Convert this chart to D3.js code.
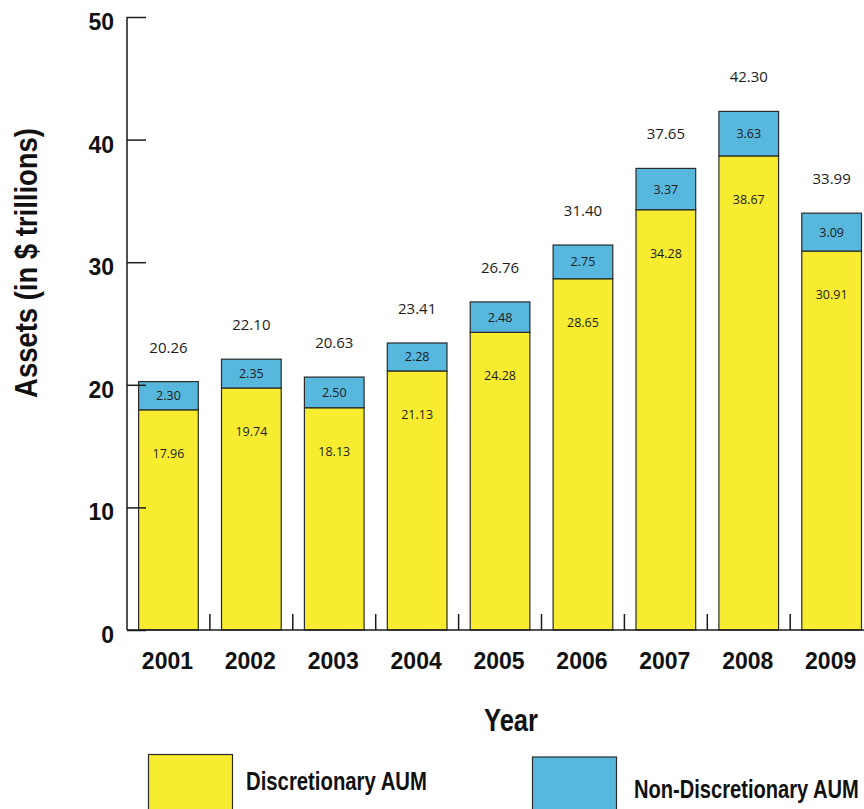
<!DOCTYPE html>
<html>
<head>
<meta charset="utf-8">
<script src="https://cdn.jsdelivr.net/npm/d3@7"></script>
<style>
  html, body { margin: 0; padding: 0; background: #fff; }
  svg { display: block; }
  .cond { font-family: "Liberation Sans", Arial, sans-serif; font-weight: bold; }
</style>
</head>
<body>
<div id="chart"></div>
<script>
// Assets under management by year, in $ trillions
const years = ["2001", "2002", "2003", "2004", "2005", "2006", "2007", "2008", "2009"];
const discretionary = [17.96, 19.74, 18.13, 21.13, 24.28, 28.65, 34.28, 38.67, 30.91];
const nonDiscretionary = [2.30, 2.35, 2.50, 2.28, 2.48, 2.75, 3.37, 3.63, 3.09];
const totals = [20.26, 22.10, 20.63, 23.41, 26.76, 31.40, 37.65, 42.30, 33.99];
const yTicks = [0, 10, 20, 30, 40, 50];
const seriesNames = ["Discretionary AUM", "Non-Discretionary AUM"];
const seriesColors = ["#F7EC2F", "#57B7DD"];

const W = 864, H = 809;
const plotLeft = 127, plotBottom = 630, plotTop = 17;

const svg = d3.select("#chart").append("svg")
  .attr("width", W).attr("height", H);

const x = d3.scaleBand()
  .domain(years)
  .range([plotLeft, plotLeft + 9 * 82.9])
  .paddingInner(0.28)
  .paddingOuter(0.14);

const y = d3.scaleLinear().domain([0, 50]).range([plotBottom, plotTop]);

const rows = years.map((yr, i) => ({
  year: yr,
  disc: discretionary[i],
  non: nonDiscretionary[i],
  total: totals[i]
}));

const layers = d3.stack().keys(["disc", "non"])(rows);

// stacked bars
const g = svg.append("g");
layers.forEach((layer, li) => {
  g.selectAll(null)
    .data(layer)
    .enter().append("rect")
    .attr("x", d => x(d.data.year))
    .attr("width", x.bandwidth())
    .attr("y", d => y(d[1]))
    .attr("height", d => y(d[0]) - y(d[1]))
    .attr("fill", seriesColors[li])
    .attr("stroke", "#2a2a2a")
    .attr("stroke-width", 1.2);
});

// value labels
const numFont = '"Open Sans", "Noto Sans", sans-serif';
const cx = d => x(d.year) + x.bandwidth() / 2;

g.selectAll(null).data(rows).enter().append("text")
  .attr("x", cx)
  .attr("y", d => y(d.total) - 29)
  .attr("text-anchor", "middle")
  .attr("font-family", numFont)
  .attr("font-size", 15)
  .attr("fill", "#1c1c1c")
  .text(d => d.total.toFixed(2));

g.selectAll(null).data(rows).enter().append("text")
  .attr("x", cx)
  .attr("y", d => (y(d.disc) + y(d.total)) / 2 + 4.5)
  .attr("text-anchor", "middle")
  .attr("font-family", numFont)
  .attr("font-size", 12.5)
  .attr("fill", "#1c1c1c")
  .text(d => d.non.toFixed(2));

g.selectAll(null).data(rows).enter().append("text")
  .attr("x", cx)
  .attr("y", d => y(d.disc) + 48)
  .attr("text-anchor", "middle")
  .attr("font-family", numFont)
  .attr("font-size", 12.5)
  .attr("fill", "#1c1c1c")
  .text(d => d.disc.toFixed(2));

// y axis: ticks point inward
const yAxis = svg.append("g")
  .attr("transform", `translate(${plotLeft},0)`)
  .call(d3.axisRight(y).tickValues(yTicks).tickSize(19).tickFormat(""));
yAxis.select(".domain").attr("d", `M0,${plotTop}V${plotBottom}`).attr("stroke", "#1a1a1a").attr("stroke-width", 1.5);
yAxis.selectAll(".tick line").attr("stroke", "#1a1a1a").attr("stroke-width", 1.5);

svg.append("g").selectAll("text").data(yTicks).enter().append("text")
  .attr("x", 114)
  .attr("y", d => y(d) + 13)
  .attr("text-anchor", "end")
  .attr("font-family", '"Liberation Sans", Arial, sans-serif')
  .attr("font-weight", "bold")
  .attr("font-size", 23)
  .attr("fill", "#111")
  .text(d => d);

// x axis: baseline plus upward separator ticks between bars
const sepX = years.slice(1).map(yr => x(yr) - x.step() * x.paddingInner() / 2);
const xAxisG = svg.append("g");
xAxisG.append("line")
  .attr("x1", plotLeft).attr("x2", W + 10)
  .attr("y1", plotBottom).attr("y2", plotBottom)
  .attr("stroke", "#1a1a1a").attr("stroke-width", 1.5);
xAxisG.selectAll(null).data(sepX).enter().append("line")
  .attr("x1", d => d).attr("x2", d => d)
  .attr("y1", plotBottom).attr("y2", plotBottom - 16)
  .attr("stroke", "#1a1a1a").attr("stroke-width", 1.5);

xAxisG.selectAll(null).data(years).enter().append("text")
  .attr("x", d => x(d) + x.bandwidth() / 2 - 1)
  .attr("y", 669)
  .attr("text-anchor", "middle")
  .attr("font-family", '"Liberation Sans", Arial, sans-serif')
  .attr("font-weight", "bold")
  .attr("font-size", 23)
  .attr("fill", "#111")
  .text(d => d);

// condensed text: squeeze horizontally to a target width
function condensed(parent, str, size, width, place, anchor) {
  const t = parent.append("text")
    .attr("class", "cond")
    .attr("font-size", size)
    .attr("fill", "#111")
    .attr("text-anchor", anchor || "start")
    .text(str);
  const natural = t.node().getComputedTextLength();
  t.attr("transform", `${place} scale(${width / natural},1)`);
  return t;
}

// axis titles
condensed(svg, "Year", 32, 54, "translate(511,731)", "middle");
condensed(svg, "Assets (in $ trillions)", 31, 270, "translate(37,263) rotate(-90)", "middle");

// legend
const legend = [
  { name: seriesNames[0], color: seriesColors[0], rx: 148.5, ry: 754.5, tx: 246, ty: 790, len: 181 },
  { name: seriesNames[1], color: seriesColors[1], rx: 532.5, ry: 757, tx: 634, ty: 798, len: 225 }
];
const lg = svg.append("g");
lg.selectAll("rect").data(legend).enter().append("rect")
  .attr("x", d => d.rx).attr("y", d => d.ry)
  .attr("width", 84).attr("height", 70)
  .attr("fill", d => d.color)
  .attr("stroke", "#2a2a2a").attr("stroke-width", 1.2);
legend.forEach(d => condensed(lg, d.name, 25, d.len, `translate(${d.tx},${d.ty})`));
</script>
</body>
</html>
